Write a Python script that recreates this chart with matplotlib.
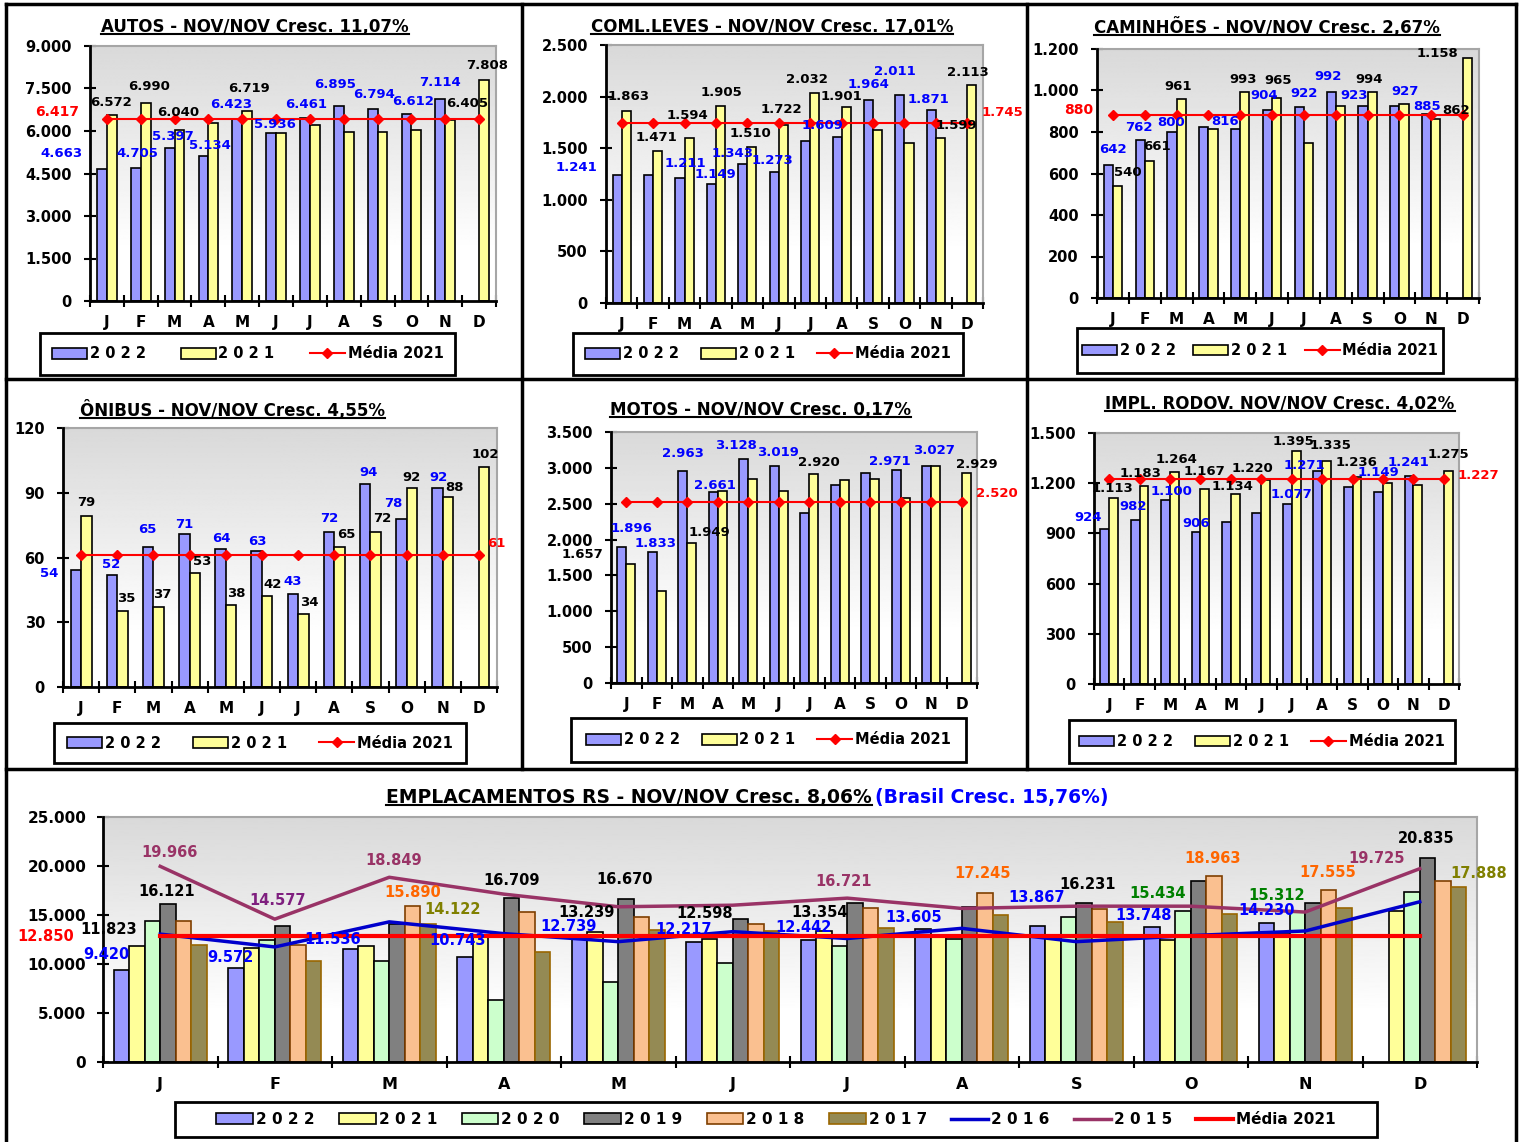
import numpy as np
import matplotlib
matplotlib.use('Agg')
import matplotlib.pyplot as plt
from matplotlib.lines import Line2D
from matplotlib.patches import Rectangle

W, H = 1522, 1142
plt.rcParams['font.family'] = ['DejaVu Sans']

months = ['J', 'F', 'M', 'A', 'M', 'J', 'J', 'A', 'S', 'O', 'N', 'D']

# small panels: 2022 (Jan-Nov), 2021 (Jan-Dec), mean of 2021
autos_2022 = [4663, 4705, 5397, 5134, 6423, 5936, 6461, 6895, 6794, 6612, 7114]
autos_2021 = [6572, 6990, 6040, 6300, 6719, 5936, 6200, 5950, 5950, 6050, 6405, 7808]
autos_mean = 6417

leves_2022 = [1241, 1240, 1211, 1149, 1343, 1273, 1565, 1609, 1964, 2011, 1871]
leves_2021 = [1863, 1471, 1594, 1905, 1510, 1722, 2032, 1901, 1680, 1550, 1599, 2113]
leves_mean = 1745

cam_2022 = [642, 762, 800, 822, 816, 904, 922, 992, 923, 927, 885]
cam_2021 = [540, 661, 961, 815, 993, 965, 745, 925, 994, 935, 862, 1158]
cam_mean = 880

onib_2022 = [54, 52, 65, 71, 64, 63, 43, 72, 94, 78, 92]
onib_2021 = [79, 35, 37, 53, 38, 42, 34, 65, 72, 92, 88, 102]
onib_mean = 61

motos_2022 = [1896, 1833, 2963, 2661, 3128, 3019, 2370, 2760, 2930, 2971, 3027]
motos_2021 = [1657, 1280, 1949, 2680, 2850, 2680, 2920, 2830, 2850, 2580, 3030, 2929]
motos_mean = 2520

impl_2022 = [924, 982, 1100, 906, 970, 1020, 1077, 1271, 1180, 1149, 1241]
impl_2021 = [1113, 1183, 1264, 1167, 1134, 1220, 1395, 1335, 1236, 1200, 1190, 1275]
impl_mean = 1227

# bottom panel: emplacamentos RS
rs_2022 = [9420, 9572, 11536, 10743, 12739, 12217, 12442, 13605, 13867, 13748, 14230]
rs_2021 = [11823, 11620, 11845, 12920, 13239, 12598, 13354, 13006, 12782, 12407, 13174, 15385]
rs_2020 = [14420, 12450, 10300, 6300, 8140, 10070, 11870, 12600, 14750, 15434, 15312, 17300]
rs_2019 = [16121, 13870, 14080, 16709, 16670, 14600, 16200, 15850, 16231, 18500, 16250, 20835]
rs_2018 = [14400, 11900, 15890, 15300, 14750, 14050, 15670, 17245, 15600, 18963, 17555, 18500]
rs_2017 = [11900, 10300, 14122, 11200, 13500, 13400, 13700, 14950, 14300, 15150, 15670, 17888]
rs_2016 = [13050, 11740, 14300, 13100, 12280, 13300, 12600, 13640, 12280, 12900, 13370, 16350]
rs_2015 = [19966, 14577, 18849, 17130, 15840, 16000, 16721, 15670, 15900, 15900, 15300, 19725]
rs_mean = 12850

C22, C21, C20 = '#9999ff', '#ffff99', '#ccffcc'
C19, C18, C17 = '#808080', '#fac090', '#948a54'
C16, C15 = '#0000cc', '#993366'

fig = plt.figure(figsize=(W / 100, H / 100), dpi=100)
fig.patch.set_facecolor('white')


def frac(l, t, r, b):
    return [l / W, 1 - b / H, (r - l) / W, (b - t) / H]


def fmt(v):
    return f'{v:,}'.replace(',', '.')


def gradient(ax):
    g = np.linspace(0, 1, 256).reshape(-1, 1)
    shade = np.clip(0.85 + 0.15 * g / 0.8, 0, 1)
    ax.imshow(shade, extent=[0, 1, 0, 1], transform=ax.transAxes, aspect='auto',
              cmap='gray', vmin=0, vmax=1, zorder=0, interpolation='bilinear')


def style_axes(ax, ymax, step, fs_tick, fs_month, ypad, xpad):
    ax.set_xlim(-0.5, 11.5)
    ax.set_ylim(0, ymax)
    yt = np.arange(0, ymax + 1, step)
    ax.set_yticks(yt)
    ax.set_yticklabels([fmt(int(v)) for v in yt], fontsize=fs_tick, fontweight='bold')
    ax.set_xticks(np.arange(-0.5, 12, 1))
    ax.set_xticklabels([])
    ax.set_xticks(np.arange(12), minor=True)
    ax.set_xticklabels(months, minor=True, fontsize=fs_month, fontweight='bold')
    ax.tick_params(axis='x', which='minor', length=0, pad=xpad)
    ax.tick_params(axis='x', which='major', length=8, width=1.5, direction='inout')
    ax.tick_params(axis='y', length=8, width=1.5, direction='inout', pad=ypad)
    for s in ['left', 'bottom']:
        ax.spines[s].set_linewidth(2)
        ax.spines[s].set_zorder(6)
    for s in ['top', 'right']:
        ax.spines[s].set_color('#a6a6a6')
        ax.spines[s].set_linewidth(1.5)


titles = []


def utitle(x, y, s, fs, color='black', underline=True):
    t = fig.text(x / W, 1 - y / H, s, ha='center', va='center', fontsize=fs,
                 fontweight='bold', color=color)
    if underline:
        titles.append(t)
    return t


def legend_frame(box):
    l, t, r, b = box
    fig.add_artist(Rectangle((l / W, 1 - b / H), (r - l) / W, (b - t) / H,
                             transform=fig.transFigure, fill=False,
                             edgecolor='black', lw=2))
    return ((l + r) / 2 / W, 1 - (t + b) / 2 / H)


def bars_first(ax):
    h, l = ax.get_legend_handles_labels()
    order = sorted(range(len(h)), key=lambda i: isinstance(h[i], Line2D))
    return [h[i] for i in order], [l[i] for i in order]


def small_panel(rect, title, title_xy, v22, v21, mean, ymax, step, lab22, lab21,
                mean_side, mean_off, legend_box, colsp=2.4):
    ax = fig.add_axes(frac(*rect))
    gradient(ax)
    x = np.arange(12)
    bw = 0.29
    ax.bar(x[:len(v22)] - bw / 2, v22, bw, color=C22, edgecolor='black', lw=1.2,
           label='2 0 2 2', zorder=2)
    ax.bar(x + bw / 2, v21, bw, color=C21, edgecolor='black', lw=1.2,
           label='2 0 2 1', zorder=2)
    ax.plot(x, [mean] * 12, color='red', lw=1.5, marker='D', ms=5,
            label='Média 2021', zorder=3)
    style_axes(ax, ymax, step, 10.5, 11, 9, 10)
    for i, (dx, dy) in lab22.items():
        ax.annotate(fmt(v22[i]), (x[i] - bw / 2, v22[i]), xytext=(dx, dy),
                    textcoords='offset pixels', ha='center', va='center',
                    color='blue', fontsize=9.5, fontweight='bold', zorder=7)
    for i, (dx, dy) in lab21.items():
        ax.annotate(fmt(v21[i]), (x[i] + bw / 2, v21[i]), xytext=(dx, dy),
                    textcoords='offset pixels', ha='center', va='center',
                    color='black', fontsize=9.5, fontweight='bold', zorder=7)
    if mean_side == 'left':
        ax.annotate(fmt(mean), (-0.5, mean), xytext=mean_off, textcoords='offset pixels',
                    ha='right', va='center', color='red', fontsize=10,
                    fontweight='bold', annotation_clip=False)
    else:
        ax.annotate(fmt(mean), (11, mean), xytext=mean_off, textcoords='offset pixels',
                    ha='left', va='center', color='red', fontsize=9.5,
                    fontweight='bold', annotation_clip=False)
    utitle(title_xy[0], title_xy[1], title, 12)
    c = legend_frame(legend_box)
    h, l = bars_first(ax)
    ax.legend(h, l, loc='center', bbox_to_anchor=c, bbox_transform=fig.transFigure,
              ncol=3, frameon=False, prop={'weight': 'bold', 'size': 10.5},
              handlelength=2.4, handletextpad=0.2, columnspacing=colsp)
    return ax


small_panel((90, 46, 496, 301), 'AUTOS - NOV/NOV Cresc. 11,07%', (255, 27),
            autos_2022, autos_2021, autos_mean, 9000, 1500,
            {0: (-41, 15), 1: (2, 14), 2: (3, 12), 3: (6, 10), 4: (-6, 15), 5: (4, 8),
             6: (1, 13), 7: (-4, 21), 8: (1, 14), 9: (7, 12), 10: (0, 17)},
            {0: (-1, 12), 1: (3, 16), 2: (-1, 17), 4: (2, 22), 10: (17, 16), 11: (3, 14)},
            'left', (-11, 7), (40, 333, 455, 375), colsp=2.4)

small_panel((606, 45, 983, 303), 'COML.LEVES - NOV/NOV Cresc. 17,01%', (772, 27),
            leves_2022, leves_2021, leves_mean, 2500, 500,
            {0: (-41, 7), 2: (5, 15), 3: (4, 10), 4: (-10, 11), 5: (-2, 11), 7: (-15, 11),
             8: (0, 16), 9: (-5, 24), 10: (-3, 10)},
            {0: (2, 14), 1: (-1, 14), 2: (-2, 23), 3: (1, 14), 4: (-1, 14), 5: (-2, 16),
             6: (-8, 14), 7: (-5, 10), 10: (16, 12), 11: (-4, 12)},
            'right', (14, 10), (573, 333, 963, 375), colsp=1.5)

small_panel((1097, 49, 1479, 298), 'CAMINHÕES - NOV/NOV Cresc. 2,67%', (1267, 27),
            cam_2022, cam_2021, cam_mean, 1200, 200,
            {0: (5, 15), 1: (-1, 12), 2: (-1, 10), 4: (-11, 7), 5: (-3, 15), 6: (5, 13),
             7: (-3, 16), 8: (-9, 11), 9: (10, 14), 10: (0, 8)},
            {0: (10, 13), 1: (8, 14), 2: (-3, 12), 4: (-2, 12), 5: (1, 17), 8: (-3, 12),
             10: (20, 9), 11: (-30, 4)},
            'left', (-4, 5), (1077, 328, 1443, 373), colsp=1.2)

small_panel((63, 428, 497, 687), 'ÔNIBUS - NOV/NOV Cresc. 4,55%', (232, 410),
            onib_2022, onib_2021, onib_mean, 120, 30,
            {0: (-27, -3), 1: (-1, 10), 2: (-1, 17), 3: (0, 9), 4: (1, 10), 5: (1, 10),
             6: (0, 13), 7: (0, 13), 8: (3, 12), 9: (-8, 15), 10: (1, 11)},
            {0: (0, 14), 1: (4, 13), 2: (4, 13), 3: (7, 11), 4: (5, 11), 5: (5, 12),
             6: (6, 11), 7: (7, 12), 8: (7, 13), 9: (0, 11), 10: (7, 10), 11: (1, 12)},
            'right', (8, 12), (54, 723, 466, 763), colsp=2.2)

small_panel((611, 432, 977, 683), 'MOTOS - NOV/NOV Cresc. 0,17%', (760, 410),
            motos_2022, motos_2021, motos_mean, 3500, 500,
            {0: (10, 19), 1: (3, 8), 2: (0, 17), 3: (2, 7), 4: (-8, 13), 5: (4, 14),
             9: (-7, 8), 10: (7, 15)},
            {0: (-48, 10), 2: (18, 11), 6: (5, 11), 11: (11, 8)},
            'right', (14, 9), (571, 718, 966, 762), colsp=1.5)

small_panel((1094, 433, 1459, 684), 'IMPL. RODOV. NOV/NOV Cresc. 4,02%', (1280, 404),
            impl_2022, impl_2021, impl_mean, 1500, 300,
            {0: (-17, 12), 1: (-2, 13), 2: (6, 8), 3: (0, 9), 6: (4, 9), 7: (-13, 6),
             9: (0, 19), 10: (-1, 14)},
            {0: (-1, 9), 1: (-4, 13), 2: (2, 13), 3: (0, 17), 4: (-3, 8), 5: (-13, 11),
             6: (-3, 9), 7: (4, 15), 8: (0, 15), 11: (0, 16)},
            'right', (14, 3), (1069, 720, 1455, 763), colsp=1.5)

# ---- bottom panel
axb = fig.add_axes(frac(103, 817, 1477, 1062))
gradient(axb)
x = np.arange(12)
bwb = 0.135
bar_series = [
    ('2022', rs_2022, '2 0 2 2', C22, 'black'),
    ('2021', rs_2021, '2 0 2 1', C21, 'black'),
    ('2020', rs_2020, '2 0 2 0', C20, 'black'),
    ('2019', rs_2019, '2 0 1 9', C19, 'black'),
    ('2018', rs_2018, '2 0 1 8', C18, '#7f3f00'),
    ('2017', rs_2017, '2 0 1 7', C17, '#996600'),
]
xoff = {}
vals = {}
for k, (key, v, lab, fc, ec) in enumerate(bar_series):
    xoff[key] = (k - 2.5) * bwb
    vals[key] = v
    axb.bar(x[:len(v)] + xoff[key], v, bwb, color=fc, edgecolor=ec, lw=1.2,
            label=lab, zorder=2)
axb.plot(x, rs_2016, color=C16, lw=2.5, label='2 0 1 6', zorder=3)
axb.plot(x, rs_2015, color=C15, lw=2.5, label='2 0 1 5', zorder=3)
axb.plot(x, [rs_mean] * 12, color='red', lw=3, label='Média 2021', zorder=4)
xoff['2015'] = 0
vals['2015'] = rs_2015
style_axes(axb, 25000, 5000, 11, 11.5, 8, 11)

P15 = '#993366'
rs_labels = [
    ('2015', 0, 9, 14, P15), ('2019', 0, -1, 13, 'black'), ('2021', 0, -28, 17, 'black'),
    ('2022', 0, -15, 15, 'blue'),
    ('2015', 1, 3, 19, '#7f1f7f'), ('2022', 1, -6, 11, 'blue'),
    ('2015', 2, 4, 17, P15), ('2018', 2, 0, 14, '#ff6600'), ('2017', 2, 25, 14, '#808000'),
    ('2022', 2, -18, 9, 'blue'),
    ('2019', 3, 0, 18, 'black'), ('2022', 3, -8, 16, 'blue'),
    ('2019', 4, -1, 19, 'black'), ('2021', 4, -9, 20, 'black'), ('2022', 4, -11, 11, 'blue'),
    ('2021', 5, -5, 25, 'black'), ('2022', 5, -11, 13, 'blue'),
    ('2015', 6, -4, 17, P15), ('2021', 6, -5, 19, 'black'), ('2022', 6, -5, 13, 'blue'),
    ('2018', 7, -2, 19, '#ff6600'), ('2022', 7, -9, 11, 'blue'),
    ('2022', 8, -1, 29, 'blue'), ('2019', 8, 4, 18, 'black'),
    ('2020', 9, -25, 17, '#008000'), ('2018', 9, -1, 18, '#ff6600'), ('2022', 9, -9, 12, 'blue'),
    ('2020', 10, -21, 16, '#008000'), ('2018', 10, -1, 17, '#ff6600'),
    ('2022', 10, 0, 12, 'blue'),
    ('2015', 11, -43, 10, P15), ('2019', 11, -1, 19, 'black'), ('2017', 11, 20, 13, '#808000'),
]
for key, i, dx, dy, col in rs_labels:
    v = vals[key][i]
    axb.annotate(fmt(v), (i + xoff[key], v), xytext=(dx, dy), textcoords='offset pixels',
                 ha='center', va='center', color=col, fontsize=10.5, fontweight='bold',
                 zorder=7)
axb.annotate(fmt(rs_mean), (-0.5, rs_mean), xytext=(-29, 0), textcoords='offset pixels',
             ha='right', va='center', color='red', fontsize=10.5, fontweight='bold',
             annotation_clip=False)

utitle(629, 797, 'EMPLACAMENTOS RS - NOV/NOV Cresc. 8,06%', 13.5)
fig.text(992 / W, 1 - 797 / H, '(Brasil Cresc. 15,76%)', ha='center', va='center',
         fontsize=13.5, fontweight='bold', color='blue')
c = legend_frame((175, 1102, 1377, 1137))
h, l = bars_first(axb)
axb.legend(h, l, loc='center', bbox_to_anchor=c, bbox_transform=fig.transFigure, ncol=9,
           frameon=False, prop={'weight': 'bold', 'size': 11}, handlelength=2.4,
           handletextpad=0.2, columnspacing=1.6)

# ---- panel borders
def seg(x0, y0, x1, y1):
    fig.add_artist(Line2D([x0 / W, x1 / W], [1 - y0 / H, 1 - y1 / H],
                          transform=fig.transFigure, color='black', lw=2.5))


seg(6, 4, 1516, 4)
seg(6, 379, 1516, 379)
seg(6, 769, 1516, 769)
seg(6, 4, 6, 1142)
seg(1516, 4, 1516, 1142)
seg(522, 4, 522, 769)
seg(1027, 4, 1027, 769)

# underline titles
renderer = fig.canvas.get_renderer()
for t in titles:
    bb = t.get_window_extent(renderer)
    y = (bb.y0 + 2) / fig.bbox.height
    fig.add_artist(Line2D([bb.x0 / fig.bbox.width, bb.x1 / fig.bbox.width], [y, y],
                          transform=fig.transFigure, color='black', lw=1.5))

fig.savefig('out.png', dpi=100)
